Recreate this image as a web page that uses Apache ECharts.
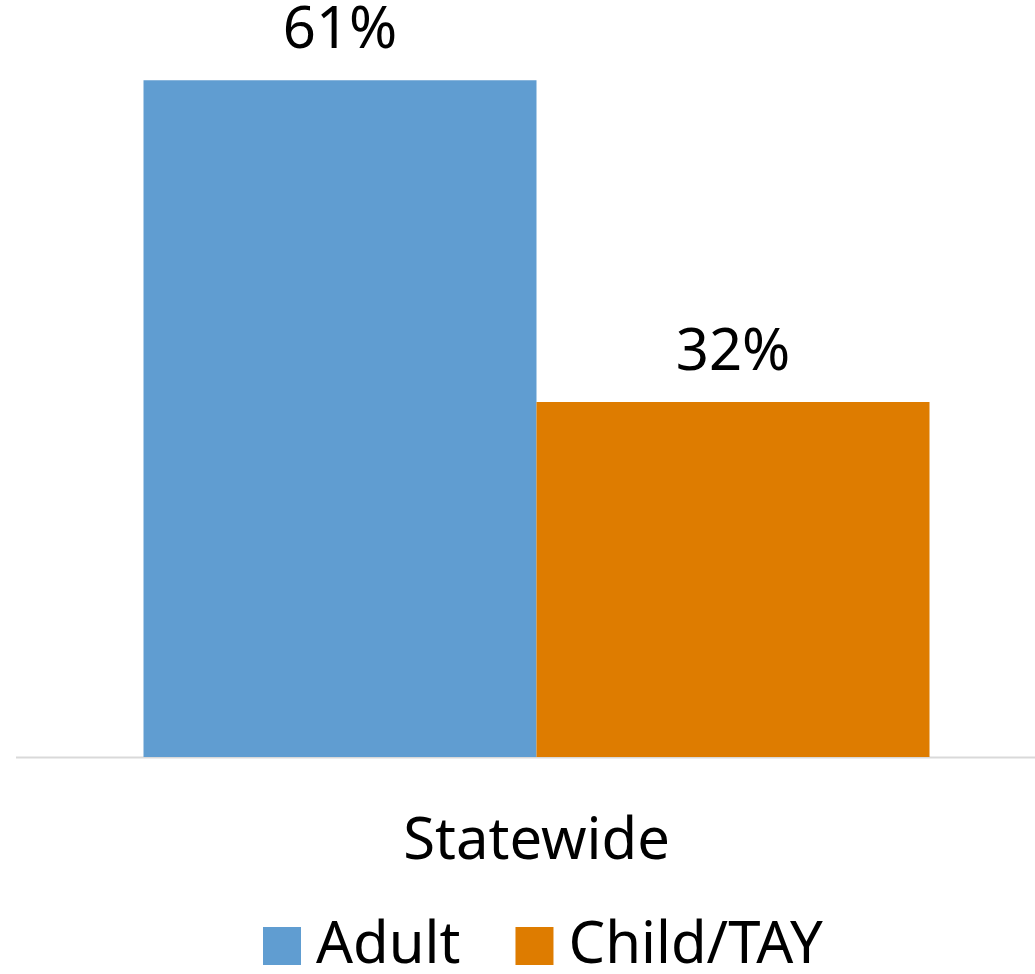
<!DOCTYPE html>
<html>
<head>
<meta charset="utf-8">
<script src="https://cdn.jsdelivr.net/npm/echarts@6/dist/echarts.min.js"></script>
<style>html,body{margin:0;padding:0;background:#fff;}#chart{width:1035px;height:974px;}</style>
</head>
<body>
<div id="chart"></div>
<script>
const categories = ['Statewide'];
const seriesNames = ['Adult', 'Child/TAY'];
const adultValues = [61];
const childValues = [32];

const chart = echarts.init(document.getElementById('chart'));
const labelStyle = {
  show: true, position: 'top', distance: 20,
  formatter: p => p.value + '%',
  fontFamily: 'Noto Sans', fontSize: 58, color: '#000'
};
chart.setOption({
  animation: false,
  grid: { left: 38, right: 0, top: 36, bottom: 217 },
  graphic: [{
    type: 'line', z: 0,
    shape: { x1: 16, y1: 757.5, x2: 1035, y2: 757.5 },
    style: { stroke: '#d9d9d9', lineWidth: 2 }
  }],
  legend: {
    data: seriesNames, top: 912, left: 258,
    itemWidth: 38, itemHeight: 38, itemGap: 55,
    icon: 'rect',
    textStyle: { fontFamily: 'Noto Sans', fontSize: 58, color: '#000', lineHeight: 38, padding: [0, 0, 0, 10] }
  },
  xAxis: {
    type: 'category', data: categories,
    axisLine: { show: false },
    axisTick: { show: false },
    axisLabel: { fontFamily: 'Noto Sans', fontSize: 58, color: '#000', margin: 56 }
  },
  yAxis: { type: 'value', min: 0, max: 65, show: false, splitLine: { show: false } },
  series: [
    { name: seriesNames[0], type: 'bar', data: adultValues, barWidth: 393, barGap: '0%',
      itemStyle: { color: '#609dd1' }, label: labelStyle },
    { name: seriesNames[1], type: 'bar', data: childValues, barWidth: 393, barGap: '0%',
      itemStyle: { color: '#de7c00' }, label: labelStyle }
  ]
});
</script>
</body>
</html>
